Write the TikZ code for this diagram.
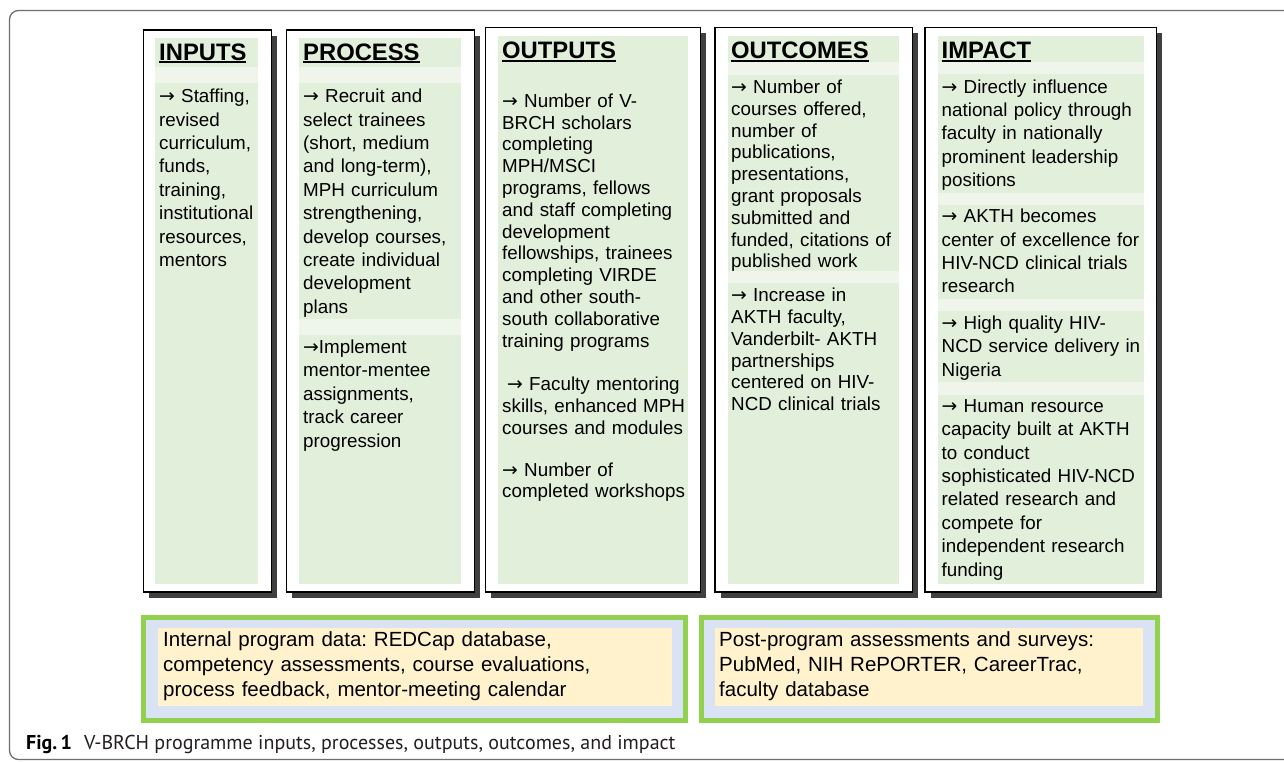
\documentclass[tikz,border=0pt]{standalone}
\usepackage{fontspec}
\setmainfont{Liberation Sans}
\newfontfamily\capfont{PT Sans}
\newfontfamily\arrfont{DejaVu Sans}
\usepackage{xcolor}
\usepackage{tikz}
\frenchspacing
\definecolor{framegray}{RGB}{110, 110, 110}
\definecolor{shadowgray}{RGB}{64, 64, 64}
\definecolor{cellgreen}{RGB}{226, 239, 218}
\definecolor{bandgreen}{RGB}{239, 245, 234}
\definecolor{srcgreen}{RGB}{146, 208, 80}
\definecolor{srcblue}{RGB}{218, 227, 243}
\definecolor{srccream}{RGB}{255, 242, 204}
\definecolor{captext}{RGB}{35, 31, 32}
\newcommand\hdline[1]{\vtop{\hbox{#1}\kern1.2pt\hrule height 1.8pt}}
\newcommand\rarr{{\arrfont →}}
\tikzset{
  colbox/.style={draw=black, line width=1.5pt, fill=white},
  colshade/.style={fill=shadowgray},
  cell/.style={fill=cellgreen},
  band/.style={fill=bandgreen},
  srcbox/.style={draw=srcgreen, line width=5pt, fill=srcblue},
  srcinner/.style={fill=srccream},
  colhead/.style={anchor=base west, inner sep=0pt, font=\fontsize{23.8}{28}\selectfont\bfseries},
  coltext/.style={anchor=base west, inner sep=0pt, text width=230pt, align=left, font=\fontsize{18.8}{23.4}\selectfont},
  coltight/.style={coltext, font=\fontsize{18.8}{21.8}\selectfont},
  srctext/.style={anchor=base west, inner sep=0pt, text width=500pt, align=left, font=\fontsize{20.5}{25}\selectfont}
}

\begin{document}
\begin{tikzpicture}[x=1pt, y=-1pt]
    \clip (0,0) rectangle (1284,761);
    \fill[white] (0,0) rectangle (1284,761);

    % Outer figure frame
    \draw[framegray, line width=1.3pt, rounded corners=9pt]
        (1300,10.5) -- (9.5,10.5) -- (9.5,759.5) -- (1300,759.5);

    % Column frames with shadows
    \fill[colshade] (149,35.5) rectangle (277.2,597.5);
    \draw[colbox] (143.5,30) rectangle (271.7,592);
    \fill[colshade] (292.2,35.5) rectangle (479.8,597.5);
    \draw[colbox] (286.7,30) rectangle (474.3,592);
    \fill[colshade] (491.2,32.8) rectangle (706.2,597.5);
    \draw[colbox] (485.7,27.3) rectangle (700.7,592);
    \fill[colshade] (720.5,32.8) rectangle (917.8,597.5);
    \draw[colbox] (715,27.3) rectangle (912.3,592);
    \fill[colshade] (930.5,32.8) rectangle (1162.2,597.5);
    \draw[colbox] (925,27.3) rectangle (1156.7,592);

    % Green cells and lighter bands
    \fill[cell] (155,38.3) rectangle (258.3,584);
    \fill[band] (155,67) rectangle (258.3,83);

    \fill[cell] (299.3,38.3) rectangle (461,584);
    \fill[band] (299.3,67) rectangle (461,83);
    \fill[band] (299.3,319) rectangle (461,335);

    \fill[cell] (498.3,35.7) rectangle (687.7,584);

    \fill[cell] (727.7,35.7) rectangle (899.3,584);
    \fill[band] (727.7,62) rectangle (899.3,75);
    \fill[band] (727.7,271) rectangle (899.3,283);

    \fill[cell] (938,35.7) rectangle (1144,584);
    \fill[band] (938,62) rectangle (1144,74);
    \fill[band] (938,193) rectangle (1144,204.5);
    \fill[band] (938,299) rectangle (1144,311);
    \fill[band] (938,382) rectangle (1144,395);

    % Headings
    \node[colhead] (inputs) at (159,60) {\hdline{INPUTS}};
    \node[colhead] (process) at (303,60) {\hdline{PROCESS}};
    \node[colhead] (outputs) at (502,58.3) {\hdline{OUTPUTS}};
    \node[colhead] (outcomes) at (731,58.3) {\hdline{OUTCOMES}};
    \node[colhead] (impact) at (941.5,58.3) {\hdline{IMPACT}};

    % Column texts
    \node[coltext] (inputs-a) at (159,102.7) {\rarr{} Staffing,\\ revised\\ curriculum,\\ funds,\\ training,\\ institutional\\ resources,\\ mentors};

    \node[coltext] (process-a) at (303,102.7) {\rarr{} Recruit and\\ select trainees\\ (short, medium\\ and long-term),\\ MPH curriculum\\ strengthening,\\ develop courses,\\ create individual\\ development\\ plans};
    \node[coltext] (process-b) at (303,353.5) {\rarr{}Implement\\ mentor-mentee\\ assignments,\\ track career\\ progression};

    \node[coltight] (outputs-a) at (502,107.3) {\rarr{} Number of V-\\ BRCH scholars\\ completing\\ MPH/MSCI\\ programs, fellows\\ and staff completing\\ development\\ fellowships, trainees\\ completing VIRDE\\ and other south-\\ south collaborative\\ training programs};
    \node[coltight] (outputs-b) at (502,390.4) {\hspace*{5pt}\rarr{} Faculty mentoring\\ skills, enhanced MPH\\ courses and modules};
    \node[coltight] (outputs-c) at (502,476) {\rarr{} Number of\\ completed workshops};

    \node[coltight] (outcomes-a) at (731,93.5) {\rarr{} Number of\\ courses offered,\\ number of\\ publications,\\ presentations,\\ grant proposals\\ submitted and\\ funded, citations of\\ published work};
    \node[coltight] (outcomes-b) at (731,301.7) {\rarr{} Increase in\\ AKTH faculty,\\ Vanderbilt- AKTH\\ partnerships\\ centered on HIV-\\ NCD clinical trials};

    \node[coltext] (impact-a) at (941.5,93) {\rarr{} Directly influence\\ national policy through\\ faculty in nationally\\ prominent leadership\\ positions};
    \node[coltext] (impact-b) at (941.5,222.7) {\rarr{} AKTH becomes\\ center of excellence for\\ HIV-NCD clinical trials\\ research};
    \node[coltext] (impact-c) at (941.5,329.3) {\rarr{} High quality HIV-\\ NCD service delivery in\\ Nigeria};
    \node[coltext] (impact-d) at (941.5,412.3) {\rarr{} Human resource\\ capacity built at AKTH\\ to conduct\\ sophisticated HIV-NCD\\ related research and\\ compete for\\ independent research\\ funding};

    % Data source boxes
    \draw[srcbox] (143.5,617.5) rectangle (685.5,720.2);
    \fill[srcinner] (157.7,628) rectangle (672,705.7);
    \draw[srcbox] (701,617.5) rectangle (1157,720.2);
    \fill[srcinner] (715.4,628) rectangle (1143,705.7);

    \node[srctext] (internal) at (163,646.7) {Internal program data: REDCap database,\\ competency assessments, course evaluations,\\ process feedback, mentor-meeting calendar};
    \node[srctext] (postprog) at (719,646.7) {Post-program assessments and surveys:\\ PubMed, NIH RePORTER, CareerTrac,\\ faculty database};

    % Caption
    \node[anchor=base west, inner sep=0pt, text=captext, font=\capfont\fontsize{20}{24}\selectfont] (caption) at (26,749)
        {\textbf{\color{black}Fig.\,1}\hspace{12pt}V-BRCH programme inputs, processes, outputs, outcomes, and impact};

\end{tikzpicture}
\end{document}
